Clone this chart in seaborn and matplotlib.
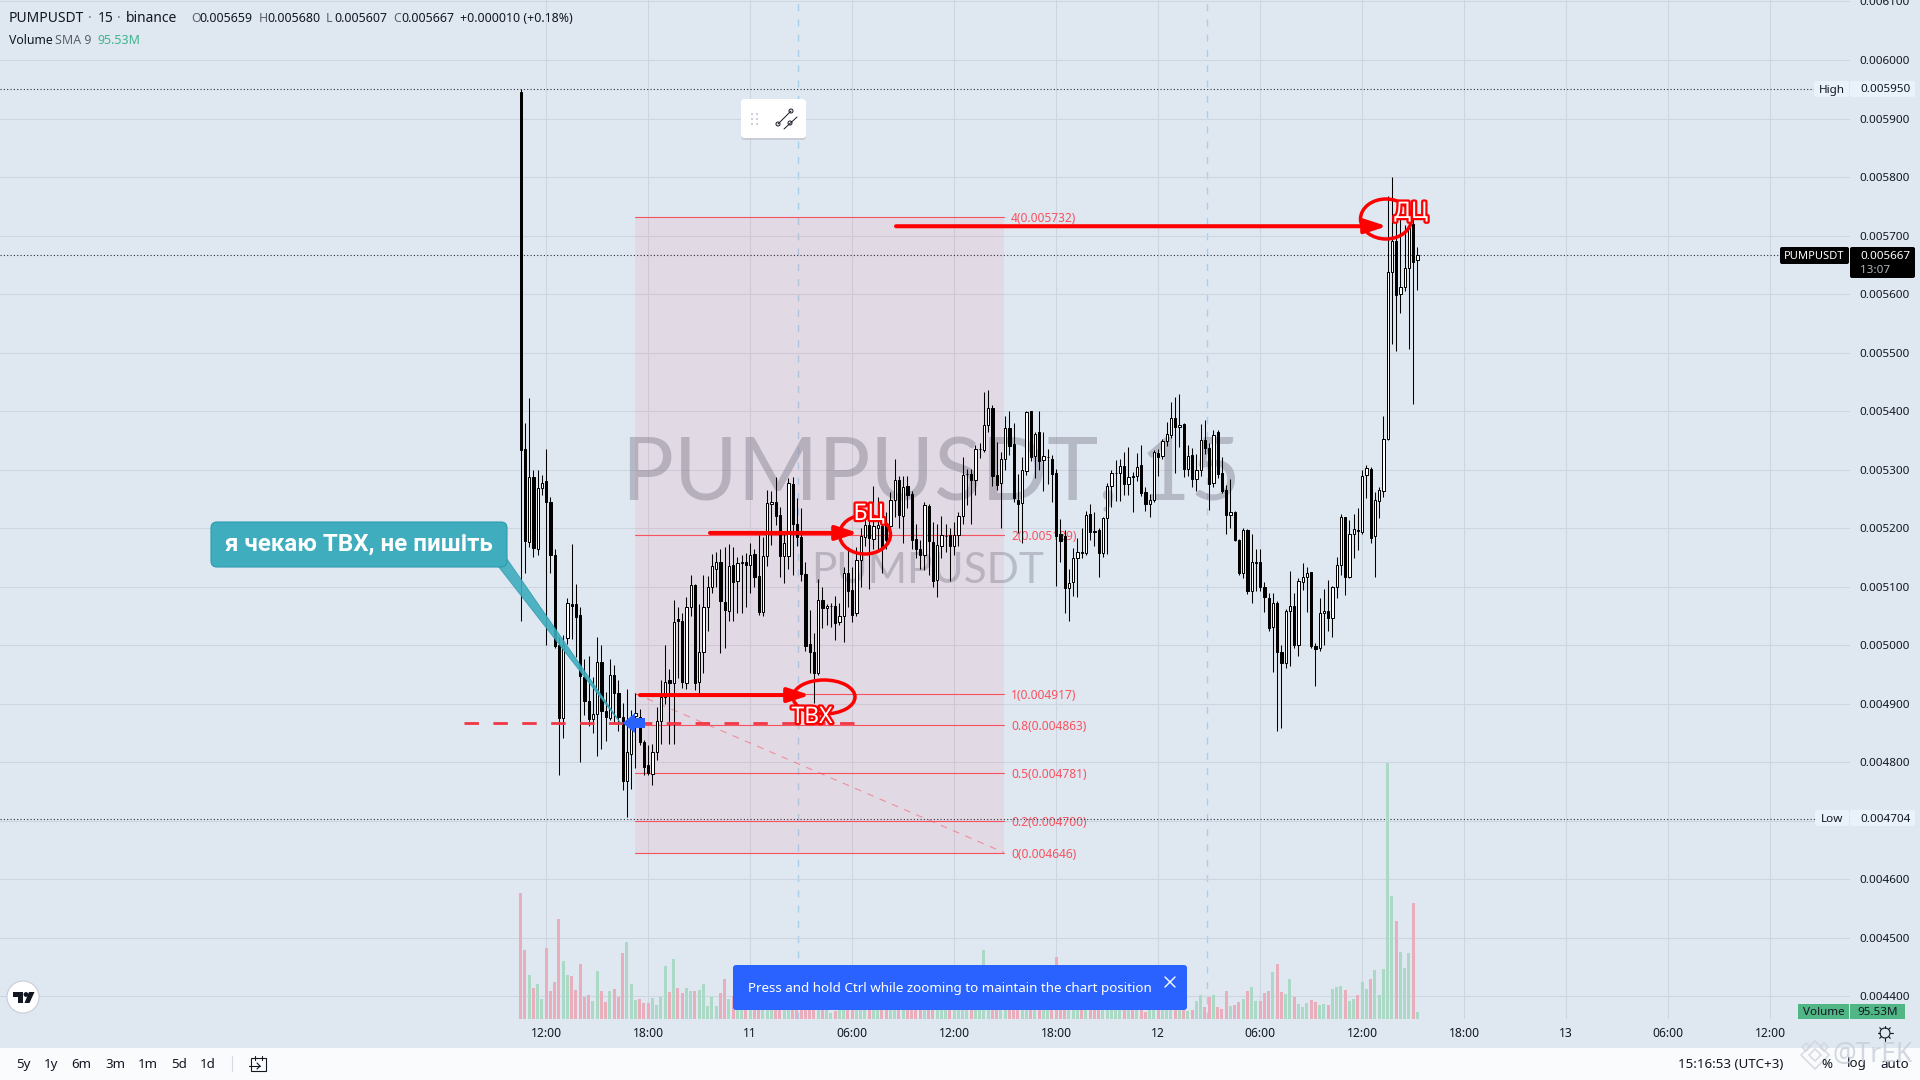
import matplotlib
matplotlib.use("Agg")
import matplotlib.pyplot as plt
import seaborn as sns
import pandas as pd
import numpy as np
from matplotlib.patches import FancyBboxPatch, Rectangle, Circle, Ellipse, Polygon
from matplotlib.transforms import Affine2D
import matplotlib.patheffects as pe

# ---- candle values, in millionths of a USDT ----
opens = [
5945,5336,5177,5287,5165,5268,5281,5244,5155,5000,
4876,5012,5071,5070,5052,4946,4904,4874,4882,4971,
4888,4875,4950,4918,4877,4769,4815,4880,4878,4834,
4795,4780,4817,4871,4912,4941,4935,5045,5042,4936,
5066,5103,4938,4989,5065,5099,5131,5143,5074,5059,
5137,5110,5140,5143,5137,5156,5118,5057,5153,5241,
5245,5222,5153,5153,5275,5208,5185,5122,5003,4989,
4953,5077,5063,5068,5068,5040,5050,5123,5094,5055,
5146,5185,5205,5181,5200,5204,5207,5204,5248,5283,
5221,5272,5258,5181,5164,5154,5238,5177,5111,5170,
5187,5188,5170,5188,5221,5292,5293,5282,5335,5334,
5377,5406,5291,5277,5318,5371,5344,5249,5243,5297,
5400,5323,5365,5317,5322,5319,5294,5190,5187,5098,
5109,5149,5159,5157,5224,5195,5197,5158,5217,5273,
5294,5294,5307,5275,5290,5289,5308,5262,5241,5249,
5328,5323,5349,5360,5388,5373,5378,5302,5325,5284,
5299,5350,5337,5277,5364,5294,5265,5223,5228,5180,
5124,5197,5093,5141,5143,5100,5080,5032,5073,4989,
4969,5058,5067,5001,5108,5117,5125,4999,4996,5055,
5059,5046,5099,5137,5219,5117,5190,5197,5193,5291,
5302,5187,5247,5264,5353,5638,5690,5600,5613,5644,
5720,5659]
closes = [
5334,5179,5287,5167,5268,5278,5244,5155,4998,4876,
5000,5072,5068,5049,4948,4904,4874,4882,4971,4888,
4877,4950,4918,4877,4769,4817,4878,4885,4834,4792,
4781,4817,4871,4912,4938,4935,5040,5042,4938,5066,
5103,4935,4988,5065,5099,5135,5143,5076,5060,5136,
5109,5140,5143,5137,5155,5116,5057,5153,5243,5245,
5221,5153,5175,5277,5207,5185,5122,4999,4989,4953,
5077,5063,5067,5068,5038,5050,5123,5093,5052,5146,
5186,5205,5184,5203,5206,5167,5180,5248,5283,5222,
5271,5257,5180,5164,5154,5240,5179,5110,5172,5188,
5187,5170,5188,5221,5291,5292,5282,5335,5335,5377,
5405,5289,5274,5318,5372,5341,5252,5241,5300,5398,
5322,5361,5315,5323,5322,5293,5186,5178,5098,5107,
5149,5159,5157,5223,5193,5193,5158,5217,5273,5294,
5295,5307,5275,5288,5288,5305,5261,5241,5249,5330,
5321,5349,5361,5388,5373,5377,5301,5324,5284,5299,
5350,5337,5276,5360,5293,5264,5223,5227,5180,5123,
5197,5093,5142,5143,5099,5082,5029,5073,4989,4970,
5058,5068,5001,5110,5116,5123,4998,4994,5055,5058,
5046,5099,5137,5219,5117,5190,5198,5195,5290,5303,
5183,5248,5265,5352,5638,5690,5598,5613,5644,5713,
5655,5667]
highs = [
5950,5379,5423,5300,5300,5291,5335,5253,5165,5015,
5018,5080,5173,5105,5065,4976,4982,4946,5015,5000,
4920,4976,4966,4941,4902,4925,4890,4918,4892,4838,
4830,4831,4895,4941,5000,4959,5077,5065,5055,5082,
5120,5105,5071,5120,5118,5156,5160,5165,5168,5173,
5168,5151,5154,5157,5174,5165,5188,5185,5265,5264,
5288,5236,5190,5285,5288,5251,5234,5143,5060,5021,
5113,5099,5071,5072,5084,5072,5134,5168,5134,5168,
5200,5225,5237,5273,5253,5220,5228,5262,5319,5289,
5289,5289,5264,5208,5180,5245,5242,5211,5208,5221,
5208,5200,5210,5228,5321,5302,5302,5342,5345,5433,
5437,5411,5348,5330,5392,5400,5380,5293,5321,5401,
5401,5365,5400,5365,5335,5325,5301,5215,5197,5131,
5166,5183,5200,5230,5241,5227,5200,5220,5278,5300,
5316,5318,5331,5339,5296,5329,5342,5270,5258,5334,
5335,5353,5382,5415,5425,5430,5380,5342,5337,5327,
5378,5385,5345,5368,5368,5322,5274,5284,5230,5182,
5200,5198,5190,5165,5165,5109,5089,5089,5075,5000,
5062,5127,5090,5115,5140,5133,5126,5004,5080,5097,
5112,5101,5151,5224,5220,5214,5224,5234,5299,5308,
5305,5262,5271,5391,5768,5800,5735,5730,5718,5722,
5730,5680]
lows = [
5042,5123,5168,5151,5155,5257,5000,5124,4995,4778,
4842,5003,5010,4980,4801,4881,4862,4850,4811,4823,
4836,4872,4868,4853,4753,4706,4754,4790,4830,4778,
4778,4762,4804,4832,4900,4832,4832,4945,4927,4925,
5050,4923,4919,4952,5025,5090,5099,4987,4995,5042,
5042,5056,5056,5066,5089,5100,5052,5050,5135,5171,
5205,5117,5107,5131,5120,5170,5110,4990,4952,4902,
4950,5029,5035,5032,5009,5035,5006,5066,5040,5050,
5100,5170,5096,5165,5160,5123,5165,5180,5220,5200,
5174,5235,5165,5150,5130,5128,5120,5100,5083,5150,
5160,5110,5155,5170,5208,5240,5208,5257,5320,5330,
5365,5272,5265,5201,5300,5325,5245,5192,5174,5291,
5315,5285,5300,5263,5275,5244,5101,5143,5056,5042,
5084,5083,5149,5154,5180,5170,5117,5151,5156,5237,
5247,5247,5257,5257,5227,5280,5255,5230,5220,5245,
5290,5319,5340,5355,5295,5339,5288,5290,5270,5264,
5290,5327,5232,5270,5285,5260,5191,5200,5178,5120,
5115,5088,5073,5092,5092,5057,5025,4955,4853,4858,
4961,4965,4995,4982,5095,5057,4996,4931,4991,5001,
5025,5015,5080,5120,5086,5115,5149,5163,5190,5251,
5175,5116,5217,5254,5350,5515,5502,5567,5605,5507,
5413,5607]
# volume, relative units
volumes = [
378,207,132,93,105,60,213,84,111,300,
174,132,129,87,165,66,72,54,144,84,
51,84,90,66,198,231,105,57,60,48,
48,63,42,66,159,81,180,93,78,93,
84,84,87,105,39,66,39,78,120,60,
70,60,50,75,60,55,90,60,55,70,
60,75,50,65,70,60,55,80,90,60,
70,55,60,18,24,55,70,60,75,60,
55,60,70,50,60,75,60,55,65,70,
60,50,70,60,65,55,70,60,50,70,
60,55,65,70,60,55,60,70,80,207,
90,80,70,65,60,70,55,60,75,70,
60,55,70,60,65,70,186,90,80,70,
60,65,55,70,60,50,65,70,55,60,
65,50,60,70,55,60,65,21,60,70,
55,60,50,65,60,55,50,24,27,54,
72,36,66,72,36,30,84,39,42,51,
60,84,96,54,54,78,84,141,165,81,
75,120,66,45,36,48,57,51,42,45,
42,90,96,99,87,54,60,72,111,90,
120,147,72,150,768,370,294,201,153,198,
348,21]

price_ticks = [6100,6000,5900,5800,5700,5600,5500,5400,5300,5200,5100,5000,4900,4800,4700,4600,4500,4400]
time_ticks = [6,30,54,78,102,126,150,174,198,222,246,270,294]
time_labels = ["12:00","18:00","11","06:00","12:00","18:00","12","06:00","12:00","18:00","13","06:00","12:00"]
fib_levels = [5732,5189,4917,4863,4781,4700,4646]
fib_names = ["4","2","1","0.8","0.5","0.2","0"]

# ---- styling constants ----
PANE = "#dfe7f1"; GRID = "#cdd5e1"; BAR = "#f9fbfd"; RED = "#f7525f"; INK = "#131722"
UP_VOL = "#acd8c6"; DN_VOL = "#e8aebb"; TEAL = "#3fadbd"; BLUE = "#2962ff"
X0, DX = 520.7, 4.25
def idx(px):            # screen x -> bar index
    return (px - X0) / DX
def prc(py):            # screen y -> price
    return 6000 - (py - 60) * 1.7085

sns.set_theme(style="white", rc={"axes.facecolor": PANE, "figure.facecolor": PANE})
plt.rcParams["font.family"] = ["Noto Sans", "DejaVu Sans"]

fig = plt.figure(figsize=(19.2, 10.8), dpi=100)
rect = [0, (1080 - 1019) / 1080, 1850 / 1920, 1019 / 1080]
ax = fig.add_axes(rect, zorder=1)
av = fig.add_axes(rect, zorder=2)
ov = fig.add_axes([0, 0, 1, 1], zorder=5)
ov.set_xlim(0, 1920); ov.set_ylim(1080, 0); ov.axis("off"); ov.patch.set_alpha(0)

# ---- volume pane ----
x = np.arange(len(opens))
o, c, h, l = map(np.array, (opens, closes, highs, lows))
up = c >= o
vdf = pd.DataFrame({"bar": x, "volume": volumes, "side": np.where(up, "up", "down")})
sns.barplot(data=vdf, x="bar", y="volume", hue="side", palette={"up": UP_VOL, "down": DN_VOL},
            native_scale=True, dodge=False, width=0.72, saturation=1, legend=False, ax=av, errorbar=None,
            linewidth=0, edgecolor="none")
av.set_ylim(0, 1019 * 3); av.axis("off"); av.patch.set_alpha(0)

# ---- price pane ----
xlim = (idx(0), idx(1850))
ax.set_xlim(*xlim); av.set_xlim(*xlim)
ax.set_ylim(prc(1019), prc(0))
for s in ax.spines.values():
    s.set_visible(False)
ax.yaxis.tick_right()
ax.set_yticks(price_ticks)
ax.set_yticklabels(["" if p == 4700 else f"{p/1e6:.6f}" for p in price_ticks], fontsize=8.4, color=INK)
ax.set_xticks(time_ticks); ax.set_xticklabels(time_labels, fontsize=8.7, color=INK)
ax.tick_params(axis="y", length=0, pad=7)
ax.tick_params(axis="x", length=0, pad=6)
ax.grid(True, color=GRID, lw=0.8, zorder=0)
ax.set_axisbelow(True)

# session breaks
for px in (798, 1206.7):
    ax.axvline(idx(px), color="#a9cfe8", lw=1.0, ls=(0, (5, 6)), zorder=0.5)

# fib box
bl, br = idx(634.7), idx(1004)
ax.add_patch(Rectangle((bl, fib_levels[-1]), br - bl, fib_levels[0] - fib_levels[-1],
                       facecolor=RED, alpha=0.09, lw=0, zorder=0.6))
for lv, nm in zip(fib_levels, fib_names):
    ax.plot([bl, br], [lv, lv], color=RED, lw=0.8, zorder=0.8)
    ax.text(idx(1011), lv, f"{nm}(0.00{lv})", color=RED, fontsize=8.6, va="center_baseline", ha="left", zorder=0.8)
ax.plot([bl, br], [4918, 4646], color=RED, lw=0.8, alpha=0.55, ls=(0, (6, 6)), zorder=0.8)

# watermark
px_tr = Affine2D().scale(1 / 1920, -1 / 1080).translate(0, 1) + fig.transFigure
ax.text(622, 500, "PUMPUSDT, 15", transform=px_tr, fontsize=62.5, family="Lato", color="#5e5a6e", alpha=0.32,
        ha="left", va="baseline", zorder=0.7)
ax.text(811, 583, "PUMPUSDT", transform=px_tr, fontsize=30.5, family="Lato", color="#5e5a6e", alpha=0.3,
        ha="left", va="baseline", zorder=0.7)

# high / last / low dotted guides
for lv, end in ((5950, 1814), (5667, 1780), (4704, 1815)):
    ax.plot([xlim[0], idx(end)], [lv, lv], color="#2a2e39", lw=0.8, ls=(0, (1, 2)), zorder=1)

# candles
ax.vlines(x, l, h, color="black", lw=0.75, zorder=2)
ax.bar(x[up], (c - o)[up], bottom=o[up], width=0.5, facecolor="white", edgecolor="black", lw=0.72, zorder=3)
hd = np.maximum(o - c, 2)
ax.bar(x[~up], hd[~up], bottom=c[~up], width=0.5, facecolor="black", edgecolor="black", lw=0.72, zorder=3)

# ---- hand drawn markup, in chart units ----
ax.plot([idx(464), idx(868)], [4868, 4868], color="#f23645", lw=2.0, ls=(0, (5.2, 5.2)), zorder=4)
def arrow(x1, x2, p):
    ax.annotate("", xy=(idx(x2), p), xytext=(idx(x1), p), zorder=5,
                arrowprops=dict(arrowstyle="-|>,head_length=1.1,head_width=0.36", color="#ff0000", lw=2.9,
                                shrinkA=0, shrinkB=0))
arrow(640, 810, 4915); arrow(710, 858, 5192); arrow(896, 1387, 5716)

# overlay shapes
for cx, cy, w, hh in ((824, 697, 62, 34), (865, 534.5, 51, 39), (1386, 219, 51, 40)):
    ov.add_patch(Ellipse((cx, cy), w, hh, fill=False, ec="#ff0000", lw=2.5))
for t_, cx, cy in (("ТВХ", 812, 717), ("БЦ", 869, 514), ("ДЦ", 1411, 212)):
    ov.text(cx, cy, t_, color="white", fontsize=16.5, fontweight="bold", ha="center", va="center",
            path_effects=[pe.withStroke(linewidth=3.2, foreground="#ff0000")])

# blue arrow
ov.add_patch(Polygon([(622.7, 723), (635, 713), (635, 718), (645, 718), (645, 728), (635, 728), (635, 733)],
                     closed=True, fc=BLUE, ec="none"))

# callout
ov.add_patch(Polygon([(498, 566), (507, 559), (622, 725)], closed=True, fc=TEAL, ec="#2c9cb0", lw=0.6, alpha=0.9))
ov.add_patch(FancyBboxPatch((217, 528), 284, 33, boxstyle="round,pad=6,rounding_size=6", fc=TEAL, ec="#2c9cb0", lw=0.8))
ov.text(359, 544.5, "я чекаю ТВХ, не пишіть", color="white", fontsize=17.4, fontweight="bold", family="Roboto",
        ha="center", va="center")

# floating tool button
ov.add_patch(FancyBboxPatch((743, 101), 61, 37, boxstyle="round,pad=2,rounding_size=3", fc="#b9bcc8", ec="none", alpha=0.6))
ov.add_patch(FancyBboxPatch((743, 101), 61, 35, boxstyle="round,pad=2,rounding_size=3", fc="white", ec="none"))
for dx in (752, 757):
    for dy in (114, 119, 124):
        ov.add_patch(Circle((dx, dy), 1, fc="#c3c6cf", ec="none"))
ov.plot([778, 791], [124, 111], color=INK, lw=0.7)
ov.plot([784, 797], [129, 117], color=INK, lw=0.7)
ov.add_patch(Circle((778, 124), 2, fc="white", ec=INK, lw=0.7))
ov.add_patch(Circle((791, 111), 2, fc="white", ec=INK, lw=0.7))
ov.add_patch(Circle((790, 123), 2, fc="white", ec=INK, lw=0.7))

# toast
ov.add_patch(FancyBboxPatch((736, 968), 448, 39, boxstyle="round,pad=3,rounding_size=3", fc=BLUE, ec="none"))
ov.text(748, 988.5, "Press and hold Ctrl while zooming to maintain the chart position", color="white",
        fontsize=9.63, ha="left", va="center")
ov.plot([1165, 1175], [977, 987], color="white", lw=1)
ov.plot([1165, 1175], [987, 977], color="white", lw=1)

# header
def t(xp, yp, s, col=INK, fs=9.4, **kw):
    ov.text(xp, yp, s, color=col, fontsize=fs, ha="left", va="center", **kw)
t(9, 18.5, "PUMPUSDT", fs=10); t(88, 18.5, "·", "#787b86", 10); t(98, 18.5, "15", fs=10); t(117, 18.5, "·", "#787b86", 10)
t(126, 18.5, "binance", fs=10)
GR = "#5d606b"
for xp, k, v in ((191, "O", "0.005659"), (259, "H", "0.005680"), (326, "L", "0.005607"), (393, "C", "0.005667")):
    t(xp, 18.5, k, GR, 8.9); t(xp + 8.5, 18.5, v, INK, 8.9)
t(460, 18.5, "+0.000010 (+0.18%)", INK, 8.9)
t(9, 41, "Volume", INK, 8.9); t(55, 41, "SMA 9", GR, 8.9); t(97, 41, "95.53M", "#3fb58b", 8.9)

# price axis tags
def tag(x1, x2, y1, y2, fc, txt, col, fs=8.4, left=None):
    ov.add_patch(FancyBboxPatch((x1 + 1, y1 + 1), x2 - x1 - 2, y2 - y1 - 2, boxstyle="round,pad=1,rounding_size=2", fc=fc, ec="none"))
    if left is None:
        ov.text((x1 + x2) / 2, (y1 + y2) / 2 + 1, txt, color=col, fontsize=fs, ha="center", va="center")
    else:
        ov.text(left, (y1 + y2) / 2 + 1, txt, color=col, fontsize=fs, ha="left", va="center")
tag(1814, 1849, 81, 97, "#e9f1fa", "High", INK)
tag(1850, 1915, 81, 97, "#e9f1fa", "0.005950", INK, left=1860)
tag(1815, 1849, 810, 826, "#e9f1fa", "Low", INK)
tag(1850, 1915, 810, 826, "#e9f1fa", "0.004704", INK, left=1860)
tag(1780, 1849, 247, 264, "black", "PUMPUSDT", "white", fs=8.0)
ov.add_patch(FancyBboxPatch((1851, 248), 63, 29, boxstyle="round,pad=1,rounding_size=2", fc="black", ec="none"))
ov.text(1860, 256.5, "0.005667", color="white", fontsize=8.4, ha="left", va="center")
ov.text(1860, 270.5, "13:07", color="#b2b5be", fontsize=8.4, ha="left", va="center")
ov.add_patch(Rectangle((1798, 1004), 51, 15, fc="#51b686", ec="none"))
ov.add_patch(Rectangle((1850, 1004), 55, 15, fc="#51b686", ec="none"))
ov.text(1823.5, 1012.5, "Volume", color=INK, fontsize=8.4, ha="center", va="center")
ov.text(1877.5, 1012.5, "95.53M", color=INK, fontsize=8.4, ha="center", va="center")

# gear
ov.add_patch(Circle((1885, 1033), 5, fill=False, ec=INK, lw=0.8))
for a in np.deg2rad(np.arange(0, 360, 45)):
    ov.plot([1885 + 5 * np.cos(a), 1885 + 7.5 * np.cos(a)], [1033 + 5 * np.sin(a), 1033 + 7.5 * np.sin(a)], color=INK, lw=0.8)

# TradingView badge
ov.add_patch(Circle((23, 997), 16, fc="white", ec="#c9cdd6", lw=0.8))
ov.add_patch(Polygon([(13, 992), (23, 992), (23, 1003), (18, 1003), (18, 997), (13, 997)], fc=INK, ec="none"))
ov.add_patch(Circle((26, 994.5), 2.4, fc=INK, ec="none"))
ov.add_patch(Polygon([(29, 992), (34.5, 992), (29.5, 1003), (24.5, 1003)], fc=INK, ec="none"))

# bottom strip
ov.add_patch(Rectangle((0, 1047.7), 1920, 33, fc=BAR, ec="none"))
for xp, s in ((23, "5y"), (51, "1y"), (81, "6m"), (115, "3m"), (148, "1m"), (179, "5d"), (208, "1d")):
    ov.text(xp, 1064.5, s, color=INK, fontsize=9.6, ha="center", va="center")
ov.plot([232, 232], [1056, 1071], color="#d6dae3", lw=0.8)
ov.add_patch(Rectangle((251, 1058), 15, 13, fill=False, ec=INK, lw=0.8))
ov.plot([249, 260], [1066, 1066], color=INK, lw=0.8)
ov.plot([257, 260, 257], [1063, 1066, 1069], color=INK, lw=0.8)
ov.plot([255, 255], [1056, 1060], color=INK, lw=0.8)
ov.plot([262, 262], [1056, 1060], color=INK, lw=0.8)
ov.text(1678, 1064, "15:16:53 (UTC+3)", color=INK, fontsize=9.6, ha="left", va="center")
ov.text(1827, 1064, "%", color=INK, fontsize=9.6, ha="center", va="center")
ov.text(1857, 1064, "log", color=INK, fontsize=9.6, ha="center", va="center")
ov.text(1895, 1064, "auto", color=INK, fontsize=9.6, ha="center", va="center")

# corner mark
ov.text(1833, 1055, "@TrEK", color="#c9ced8", alpha=0.8, fontsize=19, ha="left", va="center")
for cx, cy, r in ((1815, 1055, 14), (1815, 1055, 6), (1806, 1047, 4), (1824, 1047, 4)):
    ov.add_patch(Polygon([(cx - r, cy), (cx, cy - r), (cx + r, cy), (cx, cy + r)], fill=False, ec="#d0d4dc", alpha=0.8, lw=1.2))

fig.savefig("out.png", dpi=100, facecolor=PANE)
